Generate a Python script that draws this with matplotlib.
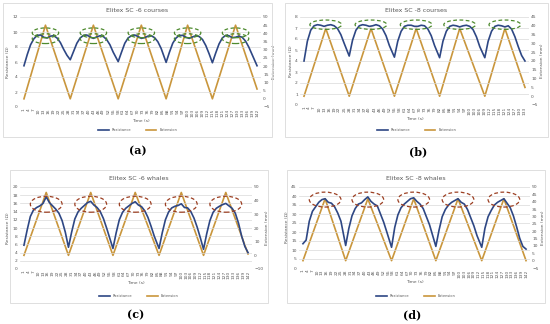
import matplotlib
matplotlib.use("Agg")
import matplotlib.pyplot as plt
from matplotlib.patches import Ellipse, Rectangle

W, H = 550, 324
BLUE = "#2E4784"
ORANGE = "#C9963C"
GREEN = "#4E8A2E"
BROWN = "#9C3F22"

# ---------- (a) Elitex SC-6 courses ----------
res_t_a = [1, 3, 5, 7, 9, 11, 13, 15, 17, 19, 21, 23, 25, 27, 29,
           31, 33, 35, 37, 39, 41, 43, 45, 47, 49, 51, 53, 55, 58,
           60, 62, 64, 66, 68, 70, 72, 74, 76, 78, 80, 82, 84, 87,
           89, 91, 93, 95, 97, 99, 101, 103, 105, 107, 109, 111, 113, 115,
           117, 119, 121, 123, 125, 127, 129, 131, 133, 135, 137, 139, 142]
res_a = [5.5, 7.0, 8.3, 9.1, 9.55, 9.6, 9.3, 9.2, 9.45, 9.5, 9.2, 8.6, 7.7, 6.9, 6.3,
         7.4, 8.5, 9.2, 9.55, 9.6, 9.35, 9.15, 9.35, 9.5, 9.4, 9.0, 8.3, 7.3, 6.05,
         7.3, 8.5, 9.2, 9.5, 9.6, 9.4, 9.15, 9.25, 9.45, 9.5, 9.25, 8.7, 7.8, 5.95,
         7.3, 8.5, 9.2, 9.55, 9.55, 9.3, 9.15, 9.35, 9.5, 9.4, 9.0, 8.2, 7.1, 5.9,
         7.2, 8.4, 9.2, 9.55, 9.5, 9.25, 9.3, 9.45, 9.3, 8.8, 8.0, 7.0, 5.5]
ext_t_a = [1, 14, 29, 43, 58, 72, 87, 100, 115, 129, 142]
ext_a = [0, 45, 0, 45, 0, 45, 0, 45, 0, 45, 6]

# ---------- (b) Elitex SC-8 courses ----------
res_t_b = [1, 3, 5, 7, 9, 11, 13, 15, 17, 19, 21, 23, 25, 28,
           30, 32, 34, 36, 38, 40, 42, 44, 46, 48, 50, 52, 55,
           57, 59, 61, 63, 65, 67, 69, 71, 73, 75, 77, 79, 82,
           84, 86, 88, 90, 92, 94, 96, 98, 100, 102, 104, 106, 109,
           111, 113, 115, 117, 119, 121, 123, 125, 127, 129, 131, 133]
res_b = [4.0, 5.8, 6.8, 7.2, 7.3, 7.25, 7.15, 7.25, 7.3, 7.2, 6.95, 6.4, 5.6, 4.45,
         5.9, 6.8, 7.2, 7.3, 7.25, 7.15, 7.2, 7.3, 7.2, 6.9, 6.3, 5.4, 4.35,
         5.8, 6.7, 7.15, 7.25, 7.25, 7.15, 7.15, 7.25, 7.2, 6.9, 6.3, 5.4, 4.3,
         5.8, 6.7, 7.15, 7.25, 7.2, 7.1, 7.2, 7.25, 7.15, 6.85, 6.2, 5.3, 4.3,
         5.8, 6.7, 7.15, 7.25, 7.2, 7.1, 7.2, 6.9, 6.2, 5.3, 4.5, 4.0]
ext_t_b = [1, 14, 28, 41, 55, 68, 82, 94, 109, 121, 133]
ext_b = [0, 38.5, 0, 38.5, 0, 38.5, 0, 38.5, 0, 38.5, 5]

# ---------- (c) Elitex SC-6 whales ----------
res_t_c = [1, 3, 5, 7, 9, 11, 13, 15, 17, 19, 21, 23, 25, 27, 29,
           31, 33, 35, 37, 39, 41, 43, 45, 47, 49, 51, 53, 55, 57,
           59, 61, 63, 65, 67, 69, 71, 73, 75, 77, 79, 81, 83, 86,
           88, 90, 92, 94, 96, 98, 100, 102, 104, 106, 108, 110, 112, 114,
           116, 118, 120, 122, 124, 126, 128, 130, 132, 134, 136, 138, 140, 142]
res_c = [5.8, 9.5, 12.8, 14.4, 15.0, 15.4, 16.0, 17.6, 16.2, 15.4, 14.6, 13.6, 11.8, 9.0, 5.3,
         9.0, 12.2, 13.9, 14.8, 15.5, 16.2, 16.5, 15.6, 15.0, 14.0, 12.3, 10.0, 7.5, 5.0,
         8.8, 12.0, 13.8, 14.8, 15.4, 16.0, 16.4, 15.6, 15.2, 14.2, 12.6, 10.4, 8.0, 5.0,
         8.8, 12.0, 13.9, 14.9, 15.3, 15.5, 15.9, 15.0, 14.9, 14.0, 12.4, 10.2, 7.6, 4.8,
         8.6, 11.8, 13.8, 14.8, 15.3, 15.7, 16.0, 15.4, 14.8, 13.6, 11.2, 8.0, 5.5, 4.0]
ext_t_c = [1, 15, 29, 43, 57, 71, 86, 100, 114, 128, 142]
ext_c = [0, 46, 0, 46, 0, 46, 0, 46, 0, 46, 1]

# ---------- (d) Elitex SC-8 whales ----------
res_t_d = [1, 3, 5, 7, 9, 11, 13, 15, 17, 19, 21, 23, 25, 28,
           30, 32, 34, 36, 38, 40, 42, 44, 46, 48, 50, 52, 54, 57,
           59, 61, 63, 65, 67, 69, 71, 73, 75, 77, 79, 81, 83, 85,
           87, 89, 91, 93, 95, 97, 99, 101, 103, 105, 107, 109, 111, 114,
           116, 118, 120, 122, 124, 126, 128, 130, 132, 134, 136, 138, 140, 142]
res_d = [13.5, 15.5, 26.0, 31.5, 34.0, 36.5, 38.0, 38.5, 36.5, 36.0, 34.0, 30.5, 26.0, 12.5,
         22.0, 29.0, 33.0, 35.5, 36.2, 38.0, 39.5, 37.0, 35.5, 34.5, 30.0, 25.5, 20.0, 11.5,
         22.5, 29.5, 33.5, 35.5, 37.0, 38.5, 39.0, 37.0, 35.5, 33.0, 28.5, 24.0, 18.0, 12.0,
         21.0, 28.5, 32.5, 35.0, 36.5, 37.5, 38.5, 36.5, 35.5, 32.5, 28.0, 23.5, 18.0, 11.5,
         22.0, 28.5, 32.0, 35.0, 36.5, 37.5, 38.5, 36.0, 33.5, 29.0, 23.0, 16.5, 12.0, 10.5]
ext_t_d = [1, 15, 28, 42, 57, 71, 85, 99, 114, 128, 142]
ext_d = [0, 42, 0, 42, 0, 42, 0, 42, 0, 42, 0]


def fx(x):
    return x / W


def fy(y):
    return 1 - y / H


def panel(fig, box, area, xlim, title, letter, label_xy,
          res_t, res, ext_t, ext, ylim_l, yticks_l, ylim_r, yticks_r, tmax,
          ell_y, ell_w, ell_h, ell_color, double_ell=False):
    x0, y0, x1, y1 = box
    fig.patches.append(Rectangle((fx(x0), fy(y1)), fx(x1 - x0), (y1 - y0) / H,
                                 transform=fig.transFigure, fill=False,
                                 edgecolor="#D9D9D9", lw=0.6))
    ax0, ay0, ax1, ay1 = area
    ax = fig.add_axes([fx(ax0), fy(ay1), fx(ax1 - ax0), (ay1 - ay0) / H])
    ax2 = ax.twinx()
    l1, = ax.plot(res_t, res, color=BLUE, lw=1.2, label="Resistance", zorder=3)
    l2, = ax2.plot(ext_t, ext, color=ORANGE, lw=1.2, label="Extension")
    ax.set_xlim(*xlim)
    ax.set_ylim(*ylim_l)
    ax.set_yticks(yticks_l)
    ax2.set_ylim(*ylim_r)
    ax2.set_yticks(yticks_r)
    ticks = list(range(1, tmax + 1, 3))
    ax.set_xticks(ticks)
    ax.set_xticklabels([str(t) for t in ticks], rotation=90, fontsize=2.3, color="#595959")
    for a in (ax, ax2):
        for s in a.spines.values():
            s.set_visible(False)
        a.tick_params(length=0, pad=1.5, labelsize=3.2, labelcolor="#595959")
    ax.tick_params(axis="x", pad=1)
    ax.grid(axis="y", color="#D9D9D9", lw=0.5)
    ax.set_axisbelow(True)
    ax.set_ylabel("Resistance (Ω)", fontsize=3.2, color="#595959", labelpad=1.5)
    ax2.set_ylabel("Extension (mm)", fontsize=3.2, color="#595959", labelpad=1.5)
    ax.set_xlabel("Time (s)", fontsize=3.2, color="#595959", labelpad=1.5)
    ax.set_zorder(ax2.get_zorder() + 1)
    ax.patch.set_visible(False)
    # dashed ellipses around the extension peaks
    for t, e in zip(ext_t, ext):
        if e == max(ext):
            offsets = [0.3 * ell_h, -0.3 * ell_h] if double_ell else [0]
            for off in offsets:
                ax.add_patch(Ellipse((t, ell_y + off), ell_w, ell_h, fill=False,
                                     edgecolor=ell_color, lw=0.9, ls=(0, (3, 2)), zorder=4))
    cx = (x0 + x1) / 2
    fig.text(fx(cx), fy(y0 + 8), title, ha="center", va="center", fontsize=4.5, color="#595959")
    fig.legend([l1, l2], ["Resistance", "Extension"], loc="center",
               bbox_to_anchor=(fx(cx), fy(y1 - 7)), ncol=2, frameon=False,
               fontsize=2.6, handlelength=3, columnspacing=4, labelcolor="#595959")
    fig.text(fx(label_xy[0]), fy(label_xy[1]), "(" + letter + ")", ha="center", va="center",
             fontsize=8, family="DejaVu Serif", fontweight="bold")


fig = plt.figure(figsize=(5.5, 3.24), dpi=100)

panel(fig, (3, 3, 272, 137), (20, 17, 261, 107), (-1.4, 144.4), "Elitex SC -6 courses", "a", (138, 151),
      res_t_a, res_a, ext_t_a, ext_a, (0, 12), range(0, 13, 2), (-5, 50), range(-5, 51, 5), 142,
      9.5, 16, 1.3, GREEN, double_ell=True)
panel(fig, (285, 3, 548, 137), (300, 17, 529, 105), (-1.4, 135.4), "Elitex SC -8 courses", "b", (418, 152),
      res_t_b, res_b, ext_t_b, ext_b, (0, 8), range(0, 9), (-5, 45), range(-5, 46, 5), 133,
      7.3, 19, 0.85, GREEN)
panel(fig, (10, 170, 268, 303), (20, 187, 252, 269), (-1.5, 144.5), "Elitex SC -6 whales", "c", (136, 315),
      res_t_c, res_c, ext_t_c, ext_c, (0, 20), range(0, 21, 2), (-10, 50), range(-10, 51, 10), 142,
      15.8, 20, 3.9, BROWN)
panel(fig, (287, 170, 545, 303), (299, 187, 530, 268), (-1.5, 144.5), "Elitex SC -8 whales", "d", (412, 315),
      res_t_d, res_d, ext_t_d, ext_d, (0, 45), range(0, 46, 5), (-5, 50), range(-5, 51, 5), 142,
      38, 20, 8.3, BROWN)

fig.savefig("out.png", dpi=100)
